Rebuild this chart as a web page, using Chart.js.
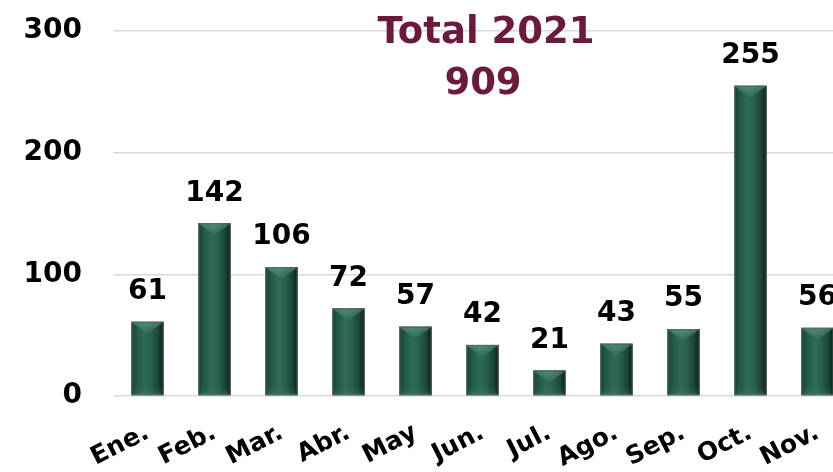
<!DOCTYPE html>
<html>
<head>
<meta charset="utf-8">
<script src="https://cdn.jsdelivr.net/npm/chart.js@4"></script>
<style>
html, body { margin:0; padding:0; overflow:hidden; background:#fff; width:833px; height:472px; }
#wrap { width:852px; height:472px; position:relative; }
</style>
</head>
<body>
<div id="wrap"><canvas id="c" width="852" height="472"></canvas></div>
<script>
const categories = ["Ene.", "Feb.", "Mar.", "Abr.", "May", "Jun.", "Jul.", "Ago.", "Sep.", "Oct.", "Nov."];
const values = [61, 142, 106, 72, 57, 42, 21, 43, 55, 255, 56];
const yTicks = [0, 100, 200, 300];
const titleLines = ["Total 2021", "909"];

const FONT = "'DejaVu Sans', sans-serif";

const barStyle = {
  id: 'barStyle',
  afterDatasetsDraw(chart) {
    const ctx = chart.ctx;
    const meta = chart.getDatasetMeta(0);
    ctx.save();
    meta.data.forEach((bar, i) => {
      const p = bar.getProps(['x', 'y', 'base', 'width'], true);
      const l = p.x - p.width / 2, r = p.x + p.width / 2, t = p.y, b = p.base;
      const g = ctx.createLinearGradient(l, 0, r, 0);
      g.addColorStop(0, '#143f30');
      g.addColorStop(0.15, '#215845');
      g.addColorStop(0.4, '#2e6b56');
      g.addColorStop(0.6, '#28624e');
      g.addColorStop(0.85, '#194434');
      g.addColorStop(1, '#081a12');
      ctx.fillStyle = g;
      ctx.fillRect(l, t, r - l, b - t);
      const h = Math.min(12, (b - t) * 0.5);
      const tg = ctx.createLinearGradient(0, t, 0, t + h);
      tg.addColorStop(0, 'rgba(110,170,145,0.55)');
      tg.addColorStop(1, 'rgba(110,170,145,0.05)');
      ctx.fillStyle = tg;
      ctx.beginPath();
      ctx.moveTo(l + 1, t + 1);
      ctx.lineTo(r - 1, t + 1);
      ctx.lineTo(p.x, t + h);
      ctx.closePath();
      ctx.fill();
      const bg = ctx.createLinearGradient(0, b - 8, 0, b);
      bg.addColorStop(0, 'rgba(80,130,110,0)');
      bg.addColorStop(1, 'rgba(80,130,110,0.35)');
      ctx.fillStyle = bg;
      ctx.fillRect(l + 2, b - 8, r - l - 4, 8);
      ctx.strokeStyle = 'rgba(95,110,103,0.9)';
      ctx.lineWidth = 1;
      ctx.strokeRect(l + 0.5, t + 0.5, r - l - 1, b - t - 1);
    });
    ctx.restore();
    ctx.save();
    ctx.fillStyle = '#000';
    ctx.font = "bold 28px " + FONT;
    ctx.textAlign = 'center';
    ctx.textBaseline = 'middle';
    meta.data.forEach((bar, i) => {
      ctx.fillText(String(values[i]), bar.x, bar.y - 30);
    });
    ctx.restore();
  }
};

const titlePlugin = {
  id: 'titleOverlay',
  afterDraw(chart) {
    const ctx = chart.ctx;
    ctx.save();
    ctx.fillStyle = '#6b1a3b';
    ctx.font = "bold 37px " + FONT;
    ctx.textAlign = 'center';
    ctx.textBaseline = 'alphabetic';
    ctx.fillText(titleLines[0], 486, 43);
    ctx.fillText(titleLines[1], 483, 94);
    ctx.restore();
  }
};

new Chart(document.getElementById('c'), {
  type: 'bar',
  data: {
    labels: categories,
    datasets: [{
      data: values,
      backgroundColor: '#245c47',
      borderWidth: 0,
      categoryPercentage: 1,
      barPercentage: 0.48
    }]
  },
  options: {
    responsive: false,
    animation: false,
    events: [],
    layout: { padding: { top: 31, right: 1, left: 0, bottom: 0 } },
    plugins: { legend: { display: false }, tooltip: { enabled: false }, title: { display: false } },
    scales: {
      x: {
        grid: { display: false, drawTicks: false },
        border: { display: false },
        ticks: {
          color: '#000',
          font: { family: FONT, size: 25, weight: 'bold' },
          maxRotation: 27, minRotation: 27,
          padding: 22,
          autoSkip: false
        },
        afterFit(s) { s.height = 76; s.paddingLeft = 0; s.paddingRight = 0; }
      },
      y: {
        min: 0, max: 300,
        afterBuildTicks(s) { s.ticks = yTicks.map(v => ({ value: v })); },
        grid: { color: '#d9d9d9', lineWidth: 1.6, drawTicks: false },
        border: { display: false },
        ticks: {
          color: '#000',
          font: { family: FONT, size: 28, weight: 'bold' },
          padding: 32
        },
        afterFit(s) { s.width = 114; s.paddingTop = 0; s.paddingBottom = 0; }
      }
    }
  },
  plugins: [barStyle, titlePlugin]
});
</script>
</body>
</html>
